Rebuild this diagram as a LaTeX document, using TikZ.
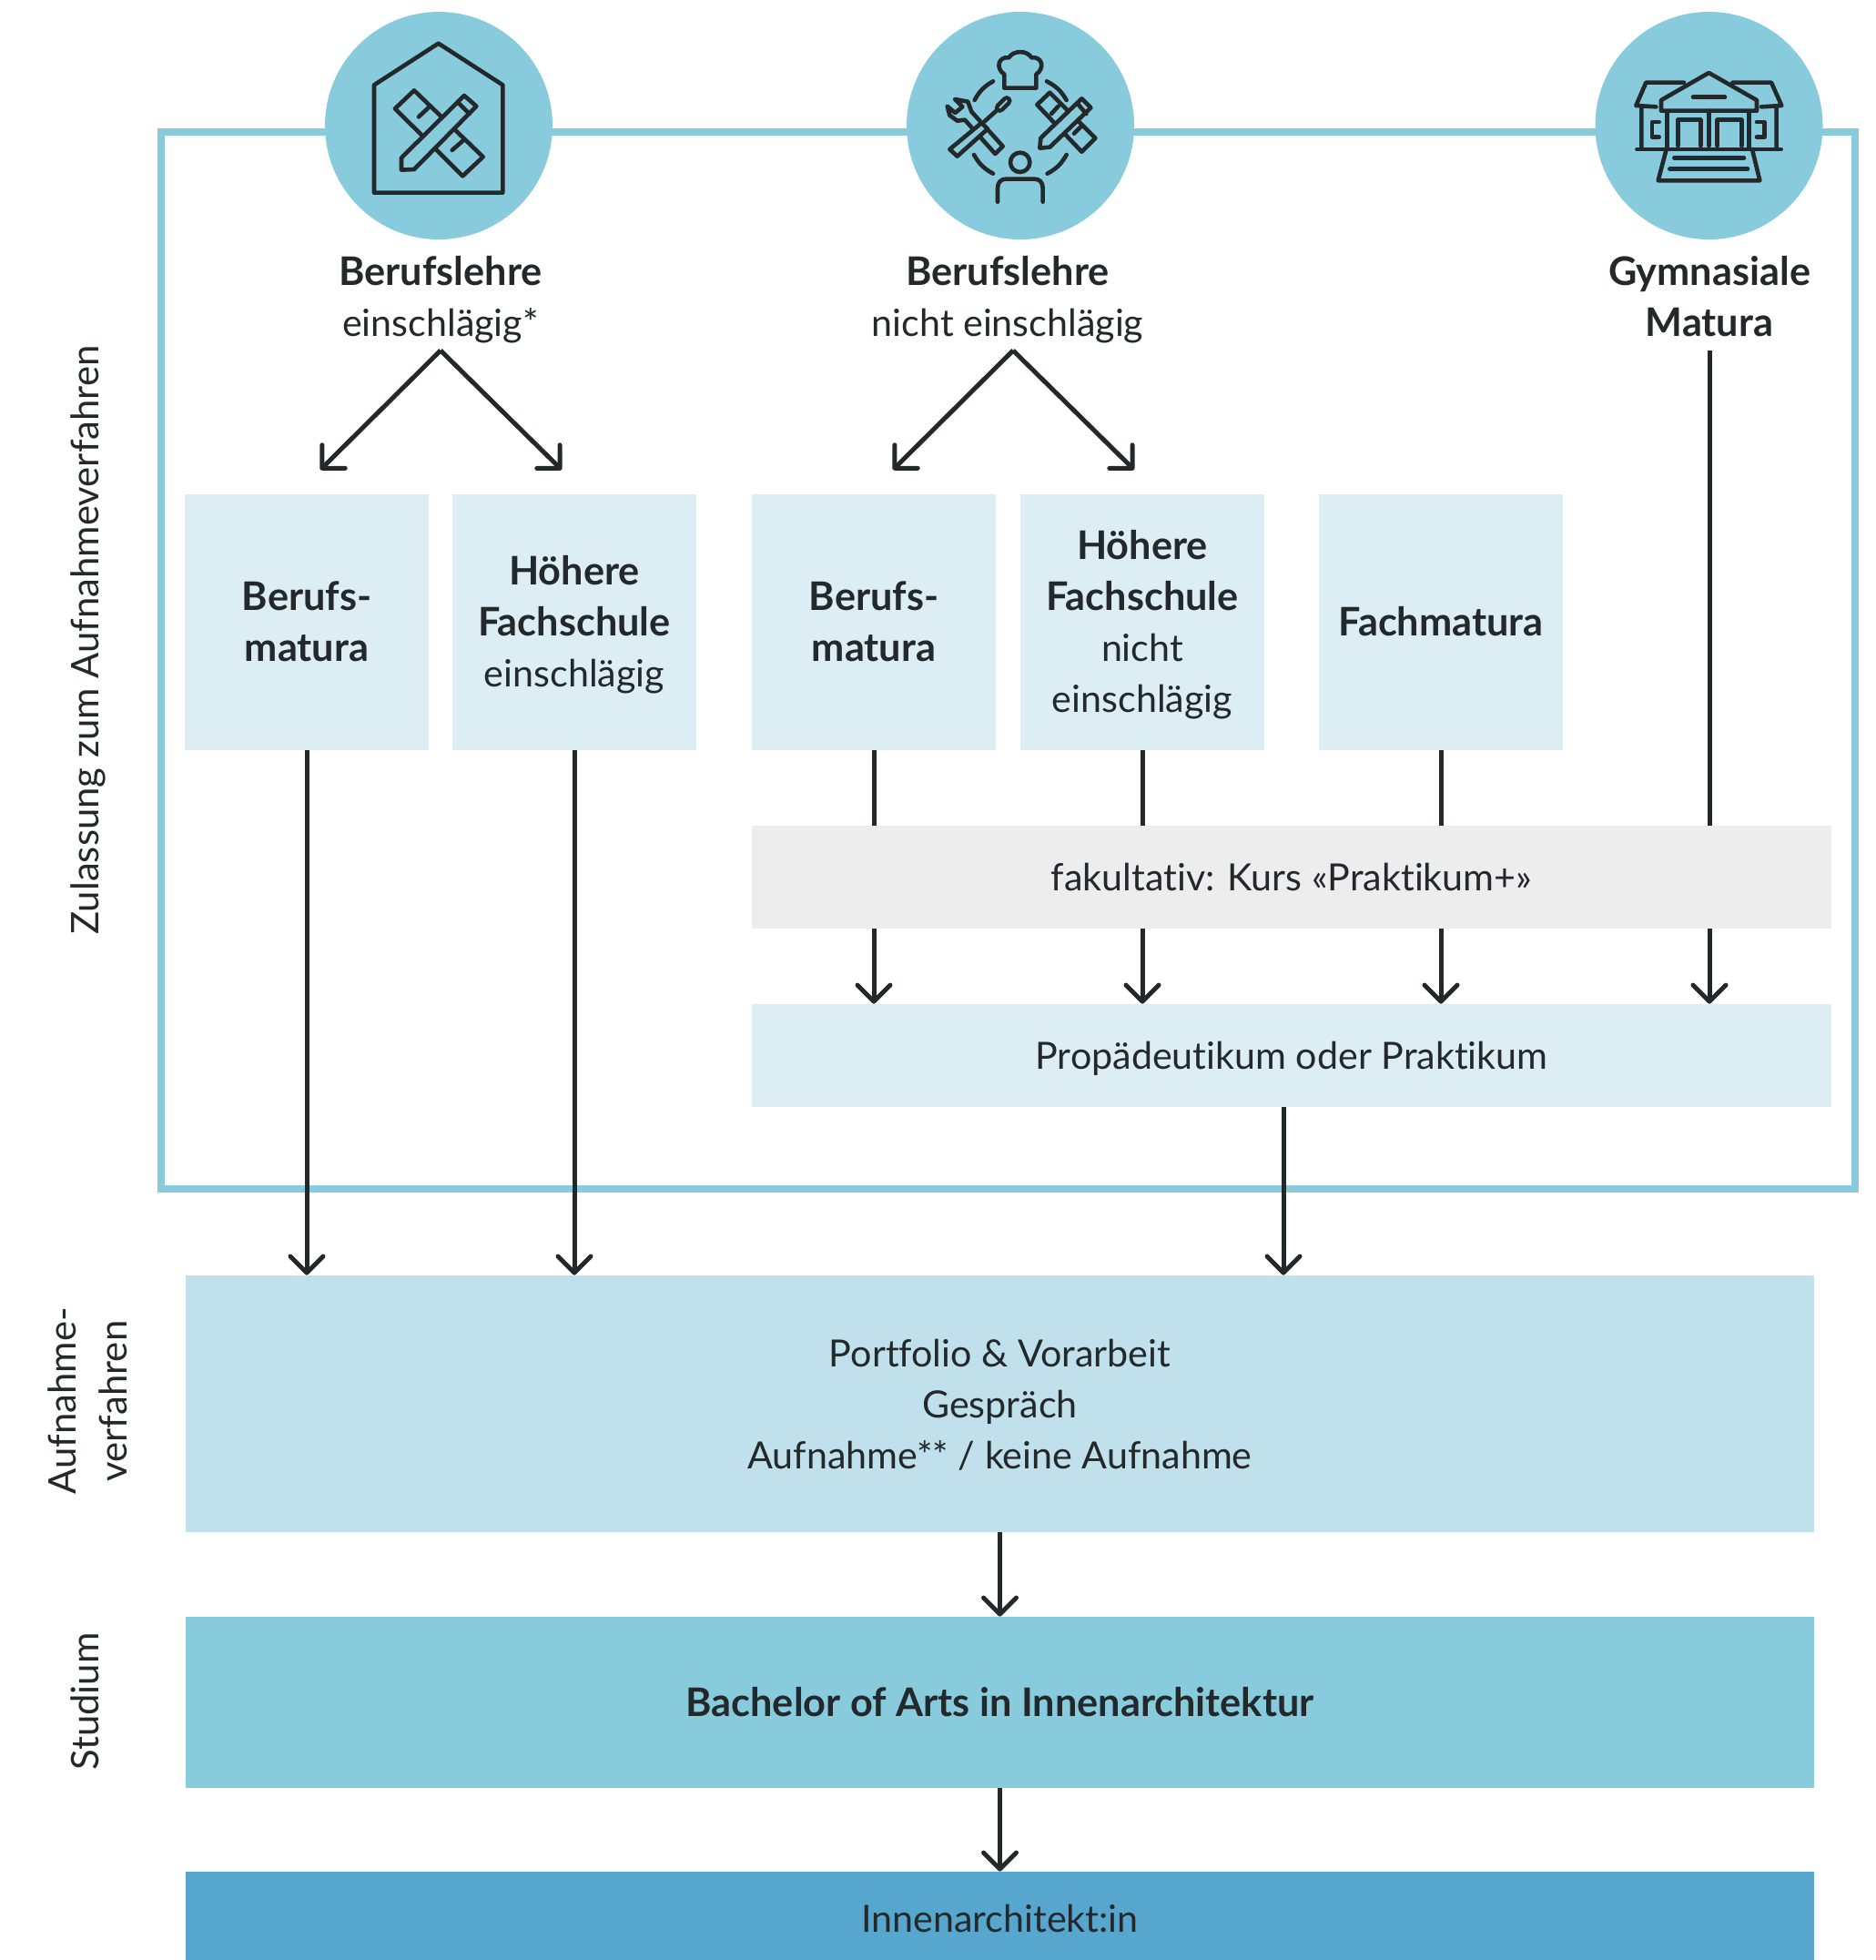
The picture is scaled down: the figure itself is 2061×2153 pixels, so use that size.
\documentclass[tikz,border=0pt]{standalone}
\usepackage{fontspec}
\setmainfont{Lato}[Ligatures=NoCommon,BoldFeatures={Scale=1.05}]
\usetikzlibrary{arrows.meta}
\definecolor{ringblue}{HTML}{88CBDD}
\definecolor{paleblue}{HTML}{DCEDF4}
\definecolor{midblue}{HTML}{C0E0EB}
\definecolor{deepblue}{HTML}{56A6CD}
\definecolor{palegrey}{HTML}{EDEDED}
\definecolor{inkdark}{HTML}{23282B}
\newcommand{\linestrut}{\leavevmode\vrule height20pt depth5pt width0pt\relax}
\newcommand{\firstline}{\leavevmode\vrule height20.5pt depth0pt width0pt\relax}
\tikzset{
  textstyle/.style={inner sep=0pt,align=center,text=inkdark,
    font=\fontsize{20.6}{28}\selectfont,
    execute at begin node=\linestrut,execute at end node=\linestrut},
  box/.style={textstyle,fill=paleblue},
  pathbox/.style={box,minimum width=134pt,minimum height=140.5pt},
  widebox/.style={box,minimum width=593pt,minimum height=56.5pt},
  fullbox/.style={box,minimum width=894.5pt},
  badge/.style={circle,fill=ringblue,minimum size=125pt,inner sep=0pt},
  caption/.style={textstyle},
  sidelabel/.style={caption,rotate=90,font=\fontsize{20.9}{28}\selectfont},
  link/.style={inkdark,line width=2.5pt},
  arr/.style={link,-{Straight Barb[length=9pt,width=18pt,round]}},
  icon/.style={inkdark,line width=2.3pt,line join=round,line cap=round},
}
\begin{document}
\begin{tikzpicture}[x=.5pt,y=-.5pt]
  \useasboundingbox (0,0) rectangle (2061,2153);
  \draw[ringblue,line width=4pt] (177,145) rectangle (2038,1306);
  % badges
  \node[badge] (lehrea) at (482,138) {};
  \node[badge] (lehreb) at (1121,138) {};
  \node[badge] (gym) at (1877.5,138) {};
  % captions
  \node[caption] (capa) at (484,326) {\firstline\textbf{Berufslehre}\\einschlägig*};
  \node[caption] (capb) at (1107,326) {\firstline\textbf{Berufslehre}\\nicht einschlägig};
  \node[caption] (capc) at (1878,326) {\firstline\textbf{Gymnasiale}\\\textbf{Matura}};
  \node[sidelabel] (zul) at (93,703) {Zulassung zum Aufnahmeverfahren};
  \node[sidelabel] (auf) at (96,1539) {\firstline Aufnahme-\\verfahren};
  \node[sidelabel] (stu) at (93,1869) {Studium};
  % boxes
  \node[pathbox] (bma) at (337,683) {\firstline\textbf{Berufs-}\\\textbf{matura}};
  \node[pathbox] (hfa) at (631,683) {\firstline\textbf{Höhere}\\\textbf{Fachschule}\\einschlägig};
  \node[pathbox] (bmb) at (960,683) {\firstline\textbf{Berufs-}\\\textbf{matura}};
  \node[pathbox] (hfb) at (1255,683) {\firstline\textbf{Höhere}\\\textbf{Fachschule}\\nicht\\einschlägig};
  \node[pathbox] (fm) at (1583,683) {\textbf{Fachmatura}};
  \node[widebox,fill=palegrey] (prak) at (1419,963.5) {fakultativ: Kurs «Praktikum+»};
  \node[widebox] (prop) at (1419,1159.5) {Propädeutikum oder Praktikum};
  \node[fullbox,fill=midblue,minimum height=141pt] (adm) at (1098.5,1542)
    {\firstline Portfolio \& Vorarbeit\\Gespräch\\Aufnahme** / keine Aufnahme};
  \node[fullbox,fill=ringblue,minimum height=94pt] (bach) at (1098.5,1870)
    {\textbf{Bachelor of Arts in Innenarchitektur}};
  \node[fullbox,fill=deepblue,minimum height=51pt] (job) at (1098.5,2107) {Innenarchitekt:in};
  % connectors
  \coordinate (apexa) at (484,385);
  \coordinate (apexb) at (1113,385);
  \coordinate (apexc) at (1878,385);
  \coordinate (propout) at (1410,1216);
  \coordinate (tipa) at (352,516);
  \coordinate (tipb) at (617,516);
  \coordinate (tipc) at (981,516);
  \coordinate (tipd) at (1246,516);
  \foreach \from/\to in {apexa/tipa,apexa/tipb,apexb/tipc,apexb/tipd}
    \draw[arr] (\from) -- (\to);
  \foreach \from in {bma,hfa}
    \draw[arr] (\from.south) -- (\from.south |- adm.north);
  \foreach \from in {bmb,hfb,fm}
    {\draw[link] (\from.south) -- (\from.south |- prak.north);
     \draw[arr] (\from.south |- prak.south) -- (\from.south |- prop.north);}
  \draw[link] (apexc) -- (apexc |- prak.north);
  \draw[arr] (apexc |- prak.south) -- (apexc |- prop.north);
  \draw[arr] (propout) -- (propout |- adm.north);
  \draw[arr] (adm.south) -- (bach.north);
  \draw[arr] (bach.south) -- (job.north);
  % house icon
  \begin{scope}[shift={(340,0)},scale=1/3]
    \draw[icon] (213,635) -- (213,280) -- (425,143) -- (637,280) -- (637,635) -- cycle;
    \draw[icon] (345,298) -- (282,358) -- (505,580) -- (572,517) -- cycle;
    \draw[icon] (360,385) -- (395,352) (470,495) -- (510,460);
    \draw[icon,fill=ringblue] (303,520) -- (510,315) -- (550,350) -- (345,558) -- (303,560) -- cycle;
    \draw[icon] (490,338) -- (527,375);
  \end{scope}
  % trades icon
  \begin{scope}[shift={(980,0)},scale=1/3]
    \draw[icon] (370,290) -- (475,290) -- (475,245)
      .. controls (505,225) and (495,185) .. (460,190)
      .. controls (445,165) and (400,165) .. (385,190)
      .. controls (350,185) and (340,225) .. (370,245) -- cycle;
    \draw[icon] (272,330) to[bend left=16] (333,268);
    \draw[icon] (510,268) to[bend left=16] (575,330);
    \draw[icon] (575,510) to[bend left=16] (512,572);
    \draw[icon] (333,572) to[bend left=16] (270,510);
    \draw[icon] (207,327) -- (232,352) -- (208,372) -- (182,350) -- (190,380)
      -- (215,398) -- (240,395) -- (340,507) -- (365,482) -- (262,368) -- (250,335) -- cycle;
    \draw[icon,fill=ringblue] (190,492) -- (295,405) -- (315,425) -- (215,515) -- cycle;
    \draw[icon] (305,400) -- (355,355);
    \draw[icon,double=ringblue,double distance=1pt] (355,355) -- (378,332);
    \draw[icon] (520,305) -- (478,345) -- (625,500) -- (670,455) -- cycle;
    \draw[icon] (525,375) -- (548,350) (600,440) -- (625,415);
    \draw[icon,fill=ringblue] (490,455) -- (625,325) -- (655,355) -- (520,485) -- (487,488) -- cycle;
    \draw[icon] (610,340) -- (640,375);
    \draw[icon] (422,535) circle (32);
    \draw[icon] (348,665) -- (348,620) .. controls (348,600) and (360,590) .. (375,590)
      -- (470,590) .. controls (485,590) and (497,600) .. (497,620) -- (497,665);
  \end{scope}
  % school icon
  \begin{scope}[shift={(1740,0)},scale=1/3]
    \draw[icon] (255,365) -- (570,365) -- (570,330) -- (412,240) -- (255,330) -- cycle;
    \draw[icon] (360,320) -- (465,320);
    \draw[icon] (275,370) -- (275,490) (545,370) -- (545,490) (412,365) -- (412,480);
    \draw[icon] (310,480) -- (310,395) -- (385,395) -- (385,480);
    \draw[icon] (440,480) -- (440,395) -- (520,395) -- (520,480);
    \draw[icon] (175,492) -- (650,492);
    \draw[icon] (272,492) -- (245,595) -- (580,595) -- (555,492);
    \draw[icon] (298,520) -- (528,520) (283,557) -- (540,557);
    \draw[icon] (330,272) -- (205,272) -- (172,348) -- (238,352) (190,355) -- (190,490);
    \draw[icon] (490,272) -- (618,272) -- (652,348) -- (585,352) (635,355) -- (635,490);
    \draw[icon] (248,402) -- (225,402) -- (225,452) -- (248,452);
    \draw[icon] (570,402) -- (595,402) -- (595,452) -- (570,452);
  \end{scope}
\end{tikzpicture}
\end{document}
